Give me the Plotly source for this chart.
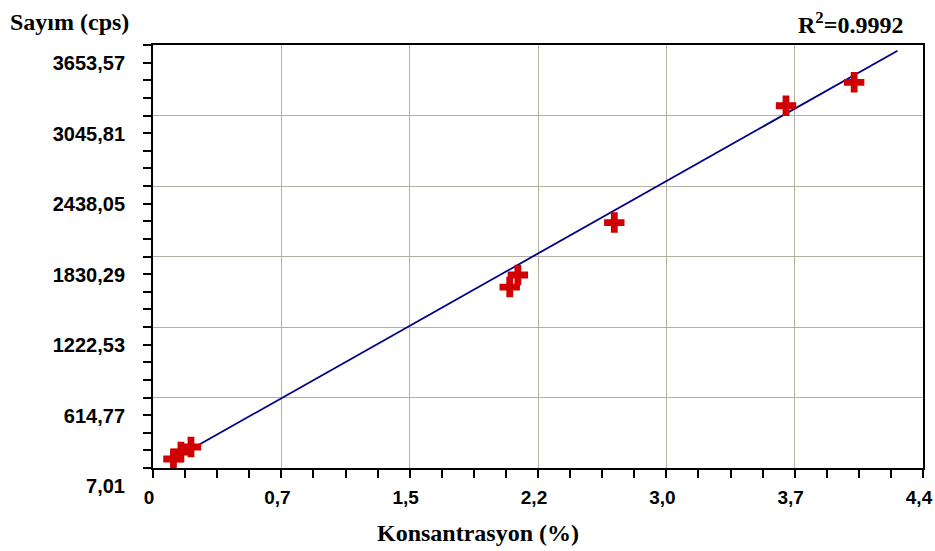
import plotly.graph_objects as go

# Data
conc = [0.118, 0.161, 0.219, 2.057, 2.104, 2.660, 3.650, 4.043]
counts = [84.6, 145.0, 188.0, 1567.0, 1671.0, 2123.0, 3130.0, 3332.0]

# fitted calibration line endpoints
fit_x = [0.137, 4.293]
fit_y = [99.3, 3604.6]

x_tickvals = [0, 0.74, 1.48, 2.22, 2.96, 3.70, 4.44]
x_ticktext = ["0", "0,7", "1,5", "2,2", "3,0", "3,7", "4,4"]

y_tickvals = [7.01, 614.77, 1222.53, 1830.29, 2438.05, 3045.81, 3653.57]
y_ticktext = ["7,01", "614,77", "1222,53", "1830,29", "2438,05", "3045,81", "3653,57"]

r2_text = "R<sup>2</sup>=0.9992"
y_title = "Sayım (cps)"
x_title = "Konsantrasyon (%)"

fig = go.Figure()
fig.add_trace(go.Scatter(x=fit_x, y=fit_y, mode="lines",
                         line=dict(color="#000088", width=1.8),
                         showlegend=False, hoverinfo="skip"))
fig.add_trace(go.Scatter(x=conc, y=counts, mode="markers",
                         marker=dict(symbol="cross", size=17, color="#d10000",
                                     line=dict(width=0)),
                         showlegend=False))

grid_col = "#b4b0a4"
tick_font = dict(family="Liberation Sans, Arial, sans-serif", size=20,
                 color="black", weight="bold")
xtick_font = dict(family="Liberation Sans, Arial, sans-serif", size=19,
                  color="black", weight="bold")

fig.update_xaxes(range=[0, 4.44], tickmode="array", tickvals=x_tickvals,
                 ticktext=x_ticktext, tickfont=xtick_font,
                 ticklabeloverflow="allow", automargin=False,
                 showline=True, linecolor="black", linewidth=2, mirror=True,
                 ticks="outside", ticklen=8, tickwidth=1.5, tickcolor="black",
                 showgrid=True, gridcolor=grid_col, gridwidth=1,
                 zeroline=False, ticklabelstandoff=3, ticklabelshift=-4,
                 minor=dict(tickmode="linear", tick0=0, dtick=0.185,
                            ticks="outside", ticklen=8, tickwidth=1.5,
                            tickcolor="black", showgrid=False))
fig.update_yaxes(range=[7.01, 3653.57], tickmode="array", tickvals=y_tickvals,
                 ticktext=y_ticktext, tickfont=tick_font,
                 ticklabeloverflow="allow", automargin=False,
                 showline=True, linecolor="black", linewidth=2, mirror=True,
                 ticks="outside", ticklen=8, tickwidth=1.5, tickcolor="black",
                 showgrid=True, gridcolor=grid_col, gridwidth=1,
                 zeroline=False, ticklabelshift=18, ticklabelstandoff=14,
                 minor=dict(tickmode="linear", tick0=7.01, dtick=151.94,
                            ticks="outside", ticklen=8, tickwidth=1.5,
                            tickcolor="black", showgrid=False))

title_font = dict(family="Liberation Serif, Times New Roman, serif", size=24,
                  color="black", weight="bold")
fig.add_annotation(text=y_title, xref="paper", yref="paper",
                   x=-145/770, y=1 + 23/423, xanchor="left", yanchor="middle",
                   showarrow=False, font=title_font)
fig.add_annotation(text=r2_text, xref="paper", yref="paper",
                   x=(905-153)/770, y=1 + 22/423, xanchor="right", yanchor="middle",
                   showarrow=False, font=title_font)
fig.add_annotation(text=x_title, xref="paper", yref="paper",
                   x=(478-153)/770, y=-(533-468)/423, xanchor="center", yanchor="middle",
                   showarrow=False, font=title_font)

fig.update_layout(width=935, height=551,
                  margin=dict(l=153, r=12, t=45, b=83),
                  plot_bgcolor="white", paper_bgcolor="white")

fig.write_html("out.html")
